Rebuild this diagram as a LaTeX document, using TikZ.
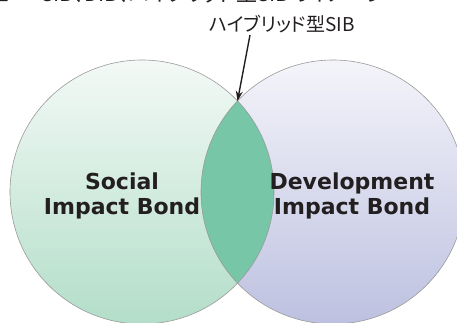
\documentclass[tikz,border=0pt]{standalone}
\usepackage{fontspec}
\setmainfont{DejaVu Sans}
\newfontfamily\jp{Noto Sans CJK JP}[RawFeature=+palt]
\usetikzlibrary{arrows.meta}
\definecolor{edgegray}{HTML}{9A9A9A}
\definecolor{lenscol}{HTML}{76C6A7}
\definecolor{ltop}{HTML}{F3F9F6}
\definecolor{lbot}{HTML}{B3DEC9}
\definecolor{rtop}{HTML}{F4F4FA}
\definecolor{rbot}{HTML}{BDC1E0}
\definecolor{txt}{HTML}{231F20}
\tikzset{
  venn/.style={circle, minimum size=264pt, inner sep=0pt, outer sep=0pt},
  bondtext/.style={align=center, inner sep=0pt, text=txt,
    font=\fontsize{22pt}{25pt}\selectfont\bfseries},
  jplabel/.style={inner sep=0pt, text=txt, font=\jp\fontsize{19pt}{22pt}\selectfont},
  pointer/.style={line width=1.4pt, draw=txt, -{Stealth[length=10pt,width=7pt]}}
}
\begin{document}
\begin{tikzpicture}[x=1pt,y=-1pt]
\useasboundingbox (0,0) rectangle (457,322);
\clip (0,0) rectangle (457,322);
% clipped heading line at the top
\node[jplabel, anchor=base west, font=\jp\fontsize{21pt}{24pt}\selectfont] (head) at (-12,1.5)
  {三\hspace{32pt}SIB、DIB、ハイブリッド型SIBのイメージ};
% circles
\node[venn, top color=ltop, bottom color=lbot] (L) at (142,192) {};
\node[venn, top color=rtop, bottom color=rbot] (R) at (333,192) {};
\begin{scope}
  \clip (142,192) circle (132pt);
  \fill[lenscol] (333,192) circle (132pt);
\end{scope}
\draw[edgegray, line width=0.6pt] (L.center) circle (132pt);
\draw[edgegray, line width=0.6pt] (R.center) circle (132pt);
% texts
\node[bondtext] (sib) at (122,196) {Social\\Impact Bond};
\node[bondtext] (dib) at (352,196) {Development\\Impact Bond};
\node[jplabel] (hyb) at (282,24) {ハイブリッド型SIB};
% pointer
\coordinate (tail) at (250,35);
\coordinate (tip) at (237.5,101);
\draw[pointer] (tail) -- (tip);
\end{tikzpicture}
\end{document}
